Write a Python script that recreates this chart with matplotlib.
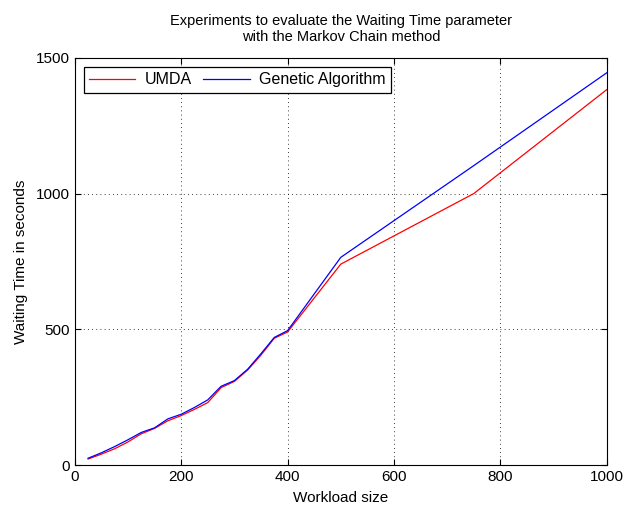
import matplotlib
matplotlib.use('Agg')
import matplotlib.pyplot as plt

plt.rcParams['font.family'] = ['Liberation Sans', 'DejaVu Sans']

# workload sizes
workload = [25, 50, 75, 100, 125, 150, 175, 200, 225, 250, 275, 300, 325, 350, 375, 400, 500, 750, 1000]
# waiting times
umda = [22, 40, 60, 85, 115, 135, 163, 182, 205, 230, 285, 308, 350, 405, 467, 490, 740, 1000, 1383]
genetic = [25, 45, 68, 93, 120, 137, 170, 187, 212, 240, 290, 311, 353, 410, 470, 495, 765, 1103, 1445]

fig = plt.figure(figsize=(6.23, 5.09), dpi=100)
ax = fig.add_axes([0.120, 0.0864, 0.854, 0.800])

ax.plot(workload, umda, color='red', linewidth=0.9, label='UMDA')
ax.plot(workload, genetic, color='blue', linewidth=0.9, label='Genetic Algorithm')

ax.set_xlim(0, 1000)
ax.set_ylim(0, 1500)
ax.set_xticks([0, 200, 400, 600, 800, 1000])
ax.set_yticks([0, 500, 1000, 1500])
ax.tick_params(direction='in', labelsize=11, top=True, right=True, length=4)
ax.grid(True, linestyle=(0, (1, 4)), color='black', linewidth=0.6)

ax.set_xlabel('Workload size', fontsize=11, labelpad=5)
ax.set_ylabel('Waiting Time in seconds', fontsize=11, labelpad=6)
ax.set_title('Experiments to evaluate the Waiting Time parameter\nwith the Markov Chain method', fontsize=10.5, pad=12)

leg = ax.legend(loc='upper left', ncol=2, fontsize=11.5, fancybox=False, framealpha=1,
                edgecolor='black', borderaxespad=0.55, handlelength=2.9, columnspacing=0.7,
                borderpad=0.35, handletextpad=0.6)
leg.get_frame().set_linewidth(0.9)

fig.savefig('out.png', dpi=100)
